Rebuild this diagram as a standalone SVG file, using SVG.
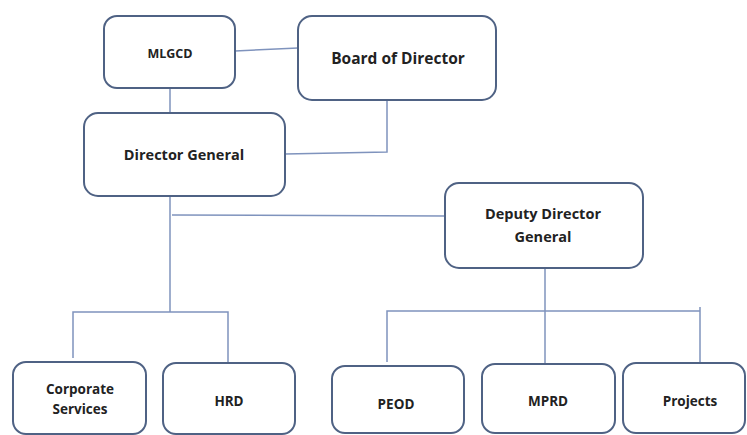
<svg xmlns="http://www.w3.org/2000/svg" width="747" height="435" viewBox="0 0 747 435">
  <style>
    .box { fill: #ffffff; stroke: #4f6284; stroke-width: 2; }
    .link { fill: none; stroke: #7f93bd; stroke-width: 1.5; }
    .lbl { font-family: "Open Sans", "Liberation Sans", sans-serif; font-weight: 700; fill: #222222; text-anchor: middle; }
    .sm { font-size: 13.5px; }
  </style>
  <rect width="747" height="435" fill="#ffffff"/>

  <!-- connectors -->
  <g id="connectors">
    <path class="link" d="M235 51 L298 48"/>
    <path class="link" d="M170 88 L170 113"/>
    <path class="link" d="M387 100 L387 152 L285 154"/>
    <path class="link" d="M170 196 L170 312"/>
    <path class="link" d="M172 215 L445 216"/>
    <path class="link" d="M73 358 L73 312 L228 312 L228 362"/>
    <path class="link" d="M545 268 L545 364"/>
    <path class="link" d="M387 362 L387 311 L700 311"/>
    <path class="link" d="M700 307 L700 363"/>
  </g>

  <!-- nodes -->
  <g id="mlgcd">
    <rect class="box" x="104" y="16" width="131" height="72" rx="13"/>
    <text class="lbl" x="170" y="58" font-size="12.5">MLGCD</text>
  </g>
  <g id="board">
    <rect class="box" x="298" y="16" width="198" height="84" rx="14"/>
    <text class="lbl" x="398" y="64" font-size="15.5">Board of Director</text>
  </g>
  <g id="director-general">
    <rect class="box" x="84" y="113" width="201" height="83" rx="14"/>
    <text class="lbl" x="184" y="160" font-size="14.5">Director General</text>
  </g>
  <g id="deputy-director-general">
    <rect class="box" x="445" y="183" width="198" height="85" rx="14"/>
    <text class="lbl" x="543" y="219" font-size="14.5">Deputy Director</text>
    <text class="lbl" x="543" y="242" font-size="14.5">General</text>
  </g>
  <g id="corporate-services">
    <rect class="box" x="13" y="362" width="133" height="72" rx="13"/>
    <text class="lbl sm" x="80" y="394">Corporate</text>
    <text class="lbl sm" x="80" y="414">Services</text>
  </g>
  <g id="hrd">
    <rect class="box" x="163" y="363" width="132" height="71" rx="13"/>
    <text class="lbl sm" x="229" y="406">HRD</text>
  </g>
  <g id="peod">
    <rect class="box" x="332" y="366" width="132" height="67" rx="13"/>
    <text class="lbl sm" x="396" y="409">PEOD</text>
  </g>
  <g id="mprd">
    <rect class="box" x="482" y="364" width="133" height="69" rx="13"/>
    <text class="lbl sm" x="548" y="406">MPRD</text>
  </g>
  <g id="projects">
    <rect class="box" x="623" y="363" width="122" height="70" rx="13"/>
    <text class="lbl sm" x="690" y="406">Projects</text>
  </g>
</svg>
